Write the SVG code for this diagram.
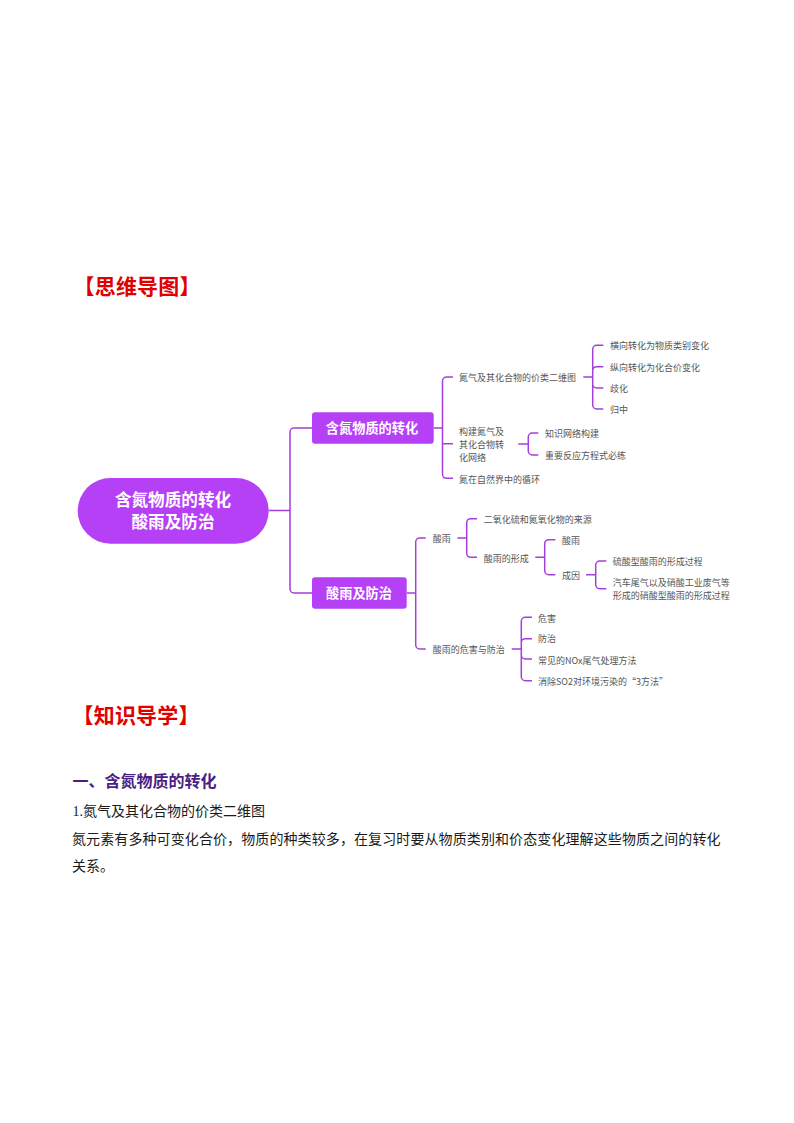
<svg xmlns="http://www.w3.org/2000/svg" width="794" height="1123" viewBox="0 0 794 1123">
<style>
text{font-family:"Noto Sans CJK SC","Noto Sans",sans-serif}
.c{fill:none;stroke:#a53fdc;stroke-width:1.5}
.f{fill:#b640f6}
.w{fill:#fff;font-weight:700;text-anchor:middle}
.l{fill:#555;font-size:9px}
.h{fill:#e00000;font-size:21px;font-weight:700}
.b{fill:#1a1a1a;font-size:14px;font-family:"Liberation Serif","Noto Sans CJK SC",serif}
</style>
<rect width="794" height="1123" fill="#fff"/>
<text class="h" x="73.500" y="294" letter-spacing="0.2">【思维导图】</text>
<text class="h" x="72.500" y="723" letter-spacing="0.2">【知识导学】</text>
<g id="connectors" class="c">
<path d="M268.7 510.5H290M290 510.5V432a4 4 0 0 1 4-4H312M290 510.5V589a4 4 0 0 0 4 4H312"/>
<path d="M433.7 428H442.5M442.5 381a4 4 0 0 1 4-4H453M442.5 381V474.3a4 4 0 0 0 4 4H453M442.5 443.8H453"/>
<path d="M583.3 377H592.7M592.7 349.3a4 4 0 0 1 4-4H603.3M592.7 349.3V405a4 4 0 0 0 4 4H603.3M592.7 370.7a4 4 0 0 1 4-4H603.3M592.7 384a4 4 0 0 0 4 4H603.3"/>
<path d="M518.3 444H528.3M528.3 437a4 4 0 0 1 4-4H538.3M528.3 437V451a4 4 0 0 0 4 4H538.3"/>
<path d="M406.7 593H415.7M415.7 542a4 4 0 0 1 4-4H425.7M415.7 542V645a4 4 0 0 0 4 4H425.7"/>
<path d="M457.3 538H466.7M466.7 522.7a4 4 0 0 1 4-4H477M466.7 522.7V553.3a4 4 0 0 0 4 4H477"/>
<path d="M535.3 557.3H544.7M544.7 543.7a4 4 0 0 1 4-4H555.3M544.7 543.7V570.7a4 4 0 0 0 4 4H555.3"/>
<path d="M586 574.7H595.7M595.7 565a4 4 0 0 1 4-4H606.3M595.7 565V584.7a4 4 0 0 0 4 4H606.3"/>
<path d="M511.7 649H521.3M521.3 621.3a4 4 0 0 1 4-4H532M521.3 621.3V676.7a4 4 0 0 0 4 4H532M521.3 642.7a4 4 0 0 1 4-4H532M521.3 655a4 4 0 0 0 4 4H532"/>
</g>
<g id="root"><rect class="f" x="77.7" y="478" width="191" height="65.7" rx="32.8"/>
<text class="w" font-size="16.6" x="173" y="506">含氮物质的转化</text><text class="w" font-size="16.6" x="173" y="528">酸雨及防治</text></g>
<g id="n1"><rect class="f" x="312" y="412.3" width="121.7" height="31.4" rx="3"/><text class="w" font-size="13.2" x="372" y="432.7">含氮物质的转化</text></g>
<g id="n2"><rect class="f" x="312" y="577.3" width="94.7" height="31.4" rx="3"/><text class="w" font-size="13.2" x="359" y="597.7">酸雨及防治</text></g>
<g id="n1-1"><text class="l" x="459" y="381">氮气及其化合物的价类二维图</text></g>
<g id="n1-1-1"><text class="l" x="610" y="349">横向转化为物质类别变化</text></g>
<g id="n1-1-2"><text class="l" x="610" y="371">纵向转化为化合价变化</text></g>
<g id="n1-1-3"><text class="l" x="610" y="392.200">歧化</text></g>
<g id="n1-1-4"><text class="l" x="610" y="413.300">归中</text></g>
<g id="n1-2"><text class="l" x="459" y="434.600">构建氮气及</text><text class="l" x="459" y="448">其化合物转</text><text class="l" x="459" y="461">化网络</text></g>
<g id="n1-2-1"><text class="l" x="545" y="437.300">知识网络构建</text></g>
<g id="n1-2-2"><text class="l" x="545" y="459.300">重要反应方程式必练</text></g>
<g id="n1-3"><text class="l" x="459" y="482.600">氮在自然界中的循环</text></g>
<g id="n2-1"><text class="l" x="432.700" y="542.300">酸雨</text></g>
<g id="n2-1-1"><text class="l" x="483.700" y="522.600">二氧化硫和氮氧化物的来源</text></g>
<g id="n2-1-2"><text class="l" x="483.700" y="561.600">酸雨的形成</text></g>
<g id="n2-1-2-1"><text class="l" x="562" y="543.600">酸雨</text></g>
<g id="n2-1-2-2"><text class="l" x="562" y="578.600">成因</text></g>
<g id="n2-1-2-2-1"><text class="l" x="612.700" y="565.300">硫酸型酸雨的形成过程</text></g>
<g id="n2-1-2-2-2"><text class="l" x="612.700" y="586">汽车尾气以及硝酸工业废气等</text><text class="l" x="612.700" y="599">形成的硝酸型酸雨的形成过程</text></g>
<g id="n2-2"><text class="l" x="432.700" y="653.300">酸雨的危害与防治</text></g>
<g id="n2-2-1"><text class="l" x="538" y="621.600">危害</text></g>
<g id="n2-2-2"><text class="l" x="538" y="642.300">防治</text></g>
<g id="n2-2-3"><text class="l" x="538" y="663.600">常见的NOx尾气处理方法</text></g>
<g id="n2-2-4"><text class="l" x="538" y="685">消除SO2对环境污染的“3方法”</text></g>
<text x="72.500" y="786.700" font-size="16" font-weight="700" fill="#4b1e84">一、含氮物质的转化</text>
<text class="b" x="72.500" y="816">1.氮气及其化合物的价类二维图</text>
<text class="b" x="72" y="843.700" letter-spacing="0.1">氮元素有多种可变化合价，物质的种类较多，在复习时要从物质类别和价态变化理解这些物质之间的转化</text>
<text class="b" x="72" y="871">关系。</text>
</svg>
